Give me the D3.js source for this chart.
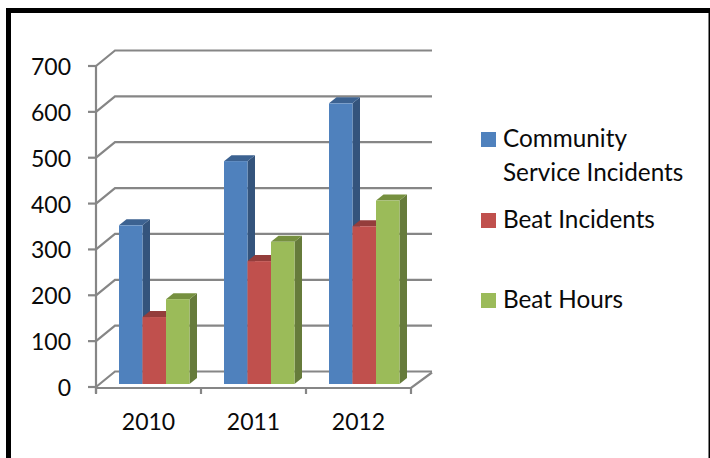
<!DOCTYPE html>
<html><head><meta charset="utf-8">
<script src="https://cdn.jsdelivr.net/npm/d3@7"></script>
<style>html,body{margin:0;padding:0;background:#fff;overflow:hidden}svg{display:block}text{font-family:Lato,"Open Sans",sans-serif;fill:#0a0a0a}</style>
</head><body><script>
const years = ["2010","2011","2012"];
const seriesNames = ["Community Service Incidents","Beat Incidents","Beat Hours"];
const community = [346,486,612];
const beatIncidents = [146,268,344];
const beatHours = [185,310,400];
const yTicks = [0,100,200,300,400,500,600,700];
const front = ["#4f81bd","#c0504d","#9bbb59"];
const side = ["#34547c","#7f3533","#667b3b"];
const topc = ["#3c6291","#943d3b","#76903f"];
const W=710,H=458;
const svg=d3.select("body").append("svg").attr("width",W).attr("height",H);
// border: open at the bottom, the picture is cropped there
svg.append("path").attr("fill","none").attr("stroke","#000").attr("stroke-width",5)
  .attr("d",`M8.5,${H+4}L8.5,10.5L711,10.5L711,${H+4}`);
const y=d3.scaleLinear().domain([0,700]).range([387,66]);
const x=d3.scaleBand().domain(years).range([96,411]);
const backD={dx:19,dy:-15.5};
const grey="#868686";
const g=svg.append("g").attr("fill","none").attr("stroke",grey).attr("stroke-width",2.2);
const gridPath=v=>{const a=y(v);return `M${x.range()[0]},${a}L${x.range()[0]+backD.dx},${a+backD.dy}L${x.range()[1]+backD.dx+2},${a+backD.dy}`;};
g.selectAll("path.grid").data(yTicks).join("path").attr("class","grid").attr("d",gridPath);
// floor
g.append("path").attr("d",`M96,${y(0)+1}L411,${y(0)+1}L432,${y(0)-14.5}`);
// axes
g.append("line").attr("x1",96).attr("x2",96).attr("y1",y(700)).attr("y2",y(0)+6);
g.selectAll("line.yt").data(yTicks).join("line").attr("class","yt").attr("x1",88).attr("x2",96).attr("y1",d=>y(d)).attr("y2",d=>y(d));
const xTickPos=[...years.map(d=>x(d)),411];
g.selectAll("line.xt").data(xTickPos).join("line").attr("class","xt").attr("x1",d=>d).attr("x2",d=>d).attr("y1",y(0)+1).attr("y2",y(0)+7);
// labels
svg.selectAll("text.yl").data(yTicks).join("text").attr("class","yl").attr("x",71).attr("y",d=>y(d)+9).attr("text-anchor","end").attr("font-size",23).text(d=>d);
svg.selectAll("text.xl").data(years).join("text").attr("class","xl").attr("x",d=>x(d)+x.bandwidth()/2).attr("y",430).attr("text-anchor","middle").attr("font-size",23).text(d=>d);
// bars
const vals=[community,beatIncidents,beatHours];
const barY=d3.scaleLinear().domain([0,700]).range([384,63]);
const inner=d3.scaleBand().domain(d3.range(3)).range([0,70.5]);
const groupStart=d=>x(d)+23;
const dpx=7.5,dpy=-6;
const bars=[];
years.forEach((yr,i)=>vals.forEach((s,k)=>bars.push({yr,k,v:s[i]})));
const bg=svg.append("g");
bars.forEach(b=>{
 const x0=groupStart(b.yr)+inner(b.k),w=inner.bandwidth(),t=barY(b.v),bot=barY(0);
 bg.append("path").attr("fill",side[b.k]).attr("d",`M${x0+w},${t}L${x0+w+dpx},${t+dpy}L${x0+w+dpx},${bot+dpy}L${x0+w},${bot}Z`);
 bg.append("path").attr("fill",topc[b.k]).attr("d",`M${x0},${t}L${x0+dpx},${t+dpy}L${x0+w+dpx},${t+dpy}L${x0+w},${t}Z`);
 bg.append("rect").attr("fill",front[b.k]).attr("x",x0).attr("y",t).attr("width",w).attr("height",bot-t);
});
// legend
const swatchBottom=[147,228,308];
svg.selectAll("rect.lg").data(front).join("rect").attr("class","lg").attr("x",481).attr("y",(d,i)=>swatchBottom[i]-15).attr("width",15).attr("height",15).attr("fill",d=>d);
const legLines=[["Community","Service Incidents"],["Beat Incidents"],["Beat Hours"]];
legLines.forEach((ls,i)=>ls.forEach((t,j)=>svg.append("text").attr("x",503).attr("y",swatchBottom[i]+j*34).attr("font-size",24.3).text(t)));
</script></body></html>
